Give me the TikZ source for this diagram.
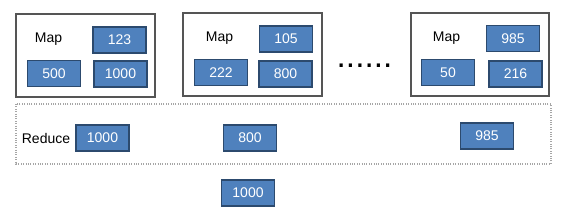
\documentclass[tikz,border=0pt]{standalone}
\usepackage{fontspec}
\setmainfont{Liberation Sans}
\definecolor{bluefill}{HTML}{4F81BD}
\definecolor{blueline}{HTML}{2C4A6E}
\definecolor{mapline}{HTML}{555555}
\definecolor{redline}{HTML}{A6A6A6}
\tikzset{
  valbox/.style={draw=blueline, fill=bluefill, line width=0.9pt, text=white,
    minimum width=39.75pt, minimum height=19.5pt, inner sep=0pt,
    font=\fontsize{10.5}{12}\selectfont},
  mapbox/.style={draw=mapline, line width=0.9pt},
  lbl/.style={inner sep=0pt, font=\fontsize{10.5}{12}\selectfont},
  redbox/.style={draw=redline, line width=0.8pt, densely dotted}
}
\begin{document}
\begin{tikzpicture}[x=0.75pt,y=-0.75pt]
\useasboundingbox (0,0) rectangle (563,224);
% map boxes
\draw[mapbox] (16,14) rectangle (155,97);
\draw[mapbox] (183,13) rectangle (322,96);
\draw[mapbox] (411,13) rectangle (549,96);
% map 1
\node[lbl] (m1) at (48.5,39) {Map};
\node[valbox] (a1) at (119.5,40) {123};
\node[valbox] (a2) at (54,73.5) {500};
\node[valbox] (a3) at (120.5,74) {1000};
% map 2
\node[lbl] (m2) at (219.5,38) {Map};
\node[valbox] (b1) at (286,39) {105};
\node[valbox] (b2) at (221,72.5) {222};
\node[valbox] (b3) at (285.5,74) {800};
% map 3
\node[lbl] (m3) at (446.5,38) {Map};
\node[valbox] (c1) at (513,38.5) {985};
\node[valbox] (c2) at (448,72.5) {50};
\node[valbox] (c3) at (515.5,74) {216};
% dots
\node[inner sep=0pt, font=\fontsize{25}{25}\selectfont, anchor=base] (dots) at (364.5,68) {......};
% reduce
\draw[redbox] (16,104) rectangle (551,164);
\node[lbl] (r) at (46,138) {Reduce};
\node[valbox] (r1) at (102.5,138) {1000};
\node[valbox] (r2) at (250,138) {800};
\node[valbox] (r3) at (487,136) {985};
\node[valbox] (res) at (248,193) {1000};
\end{tikzpicture}
\end{document}
